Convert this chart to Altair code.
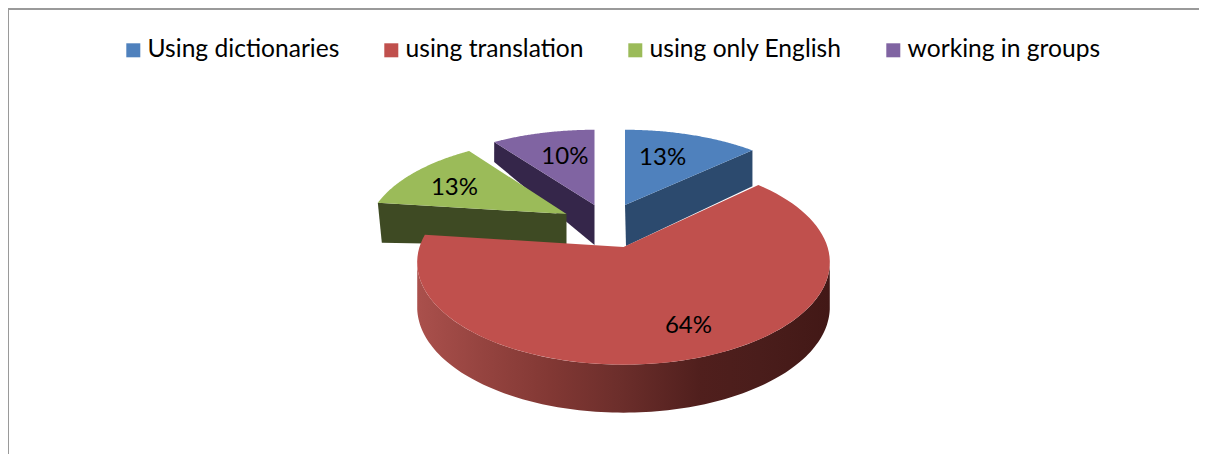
import math
import altair as alt
import pandas as pd

categories = ["Using dictionaries", "using translation", "using only English", "working in groups"]
values = [13, 64, 13, 10]
colors = ["#4f81bd", "#c0504d", "#9bbb59", "#8064a2"]
wall_colors = ["#2c4a6e", "#4f1e1c", "#3e4a23", "#35264a"]
label_texts = ["13%", "64%", "13%", "10%"]

W, H = 1191, 446
APEX = [(625, 205), (623.5, 247), (566.5, 214), (594.5, 205)]
SHAPE = [(201.5, 92, 0.223), (204, 100, 0.15), (195.5, 92, 0.223), (201.5, 92, 0.223)]
OUTER_DEPTH = [36, 46, 40, 20]
APEX_DEPTH = [41, 0, 32, 40]
LABEL_POS = [(20.2, 0.61), (158, 0.76), (296, 0.68), (344.4, 0.62)]
GRAD_X = [417, 480, 550, 620, 700, 760, 830]
GRAD_C = ["#aa504c", "#964440", "#823834", "#6c2e2b", "#501f1d", "#4a1d1b", "#421816"]


def project(idx, f, deg):
    apex = APEX[idx]
    R, RY, K = SHAPE[idx]
    t = math.radians(deg)
    u, v = f * math.sin(t), f * math.cos(t)
    s = 1 / (1 + K * v)
    return apex[0] + R * u * s, apex[1] - RY * v * s


starts, acc = [], 0
for val in values:
    starts.append(acc * 3.6)
    acc += val
ends = [s + v * 3.6 for s, v in zip(starts, values)]

tops, walls = [], []


def add(rows, pid, pts, **kw):
    for i, (x, y) in enumerate(pts):
        rows.append(dict(pid=pid, i=i, x=x, y=y, **kw))


for idx in [3, 2, 0, 1]:
    ap = APEX[idx]
    a0, a1 = starts[idx], ends[idx]
    n = 90
    arc = [project(idx, 1, a0 + (a1 - a0) * j / n) for j in range(n + 1)]
    if idx != 1:
        edge = project(idx, 1, a1) if idx == 0 else project(idx, 1, a0)
        add(walls, f"w{idx}",
            [ap, edge, (edge[0] + (4 if idx == 2 else 0), edge[1] + OUTER_DEPTH[idx]),
             (ap[0] + (1 if idx == 0 else 0), ap[1] + APEX_DEPTH[idx])],
            col=wall_colors[idx])
    add(tops, f"t{idx}", [ap] + arc, cat=categories[idx])

# red outer wall: one polygon between the front rim and the same rim pushed down
red_angles = [100 + 160 * j / 120 for j in range(121)]
rim = [project(1, 1, a) for a in red_angles]
low = [(p[0], p[1] + 44 - 4 * math.cos(math.radians(a))) for p, a in zip(rim, red_angles)]
red_wall = []
add(red_wall, "wall", rim + low[::-1])
xs = [p[0] for p in rim]
x_lo, x_hi = min(xs), max(xs)
stops = [alt.GradientStop(offset=min(1, max(0, (x - x_lo) / (x_hi - x_lo))), color=c) for x, c in zip(GRAD_X, GRAD_C)]

labels = []
for idx, (ang, f) in enumerate(LABEL_POS):
    x, y = project(idx, f, ang)
    labels.append(dict(x=x, y=y, t=label_texts[idx]))

X = alt.X("x:Q", scale=alt.Scale(domain=[8, 8 + W], range=[0, W]), axis=None)
Y = alt.Y("y:Q", scale=alt.Scale(domain=[8, 8 + H], range=[0, H]), axis=None)

back_walls = alt.Chart(pd.DataFrame(walls)).mark_line(filled=True, strokeWidth=0.5).encode(
    x=X, y=Y, order="i:Q", detail="pid:N",
    color=alt.Color("col:N", scale=None, legend=None),
)

legend = alt.Legend(
    title=None, orient="none", legendX=113, legendY=30, direction="horizontal", columns=4,
    symbolType="square", symbolSize=196, symbolStrokeWidth=0, labelFont="Lato", labelFontSize=24.6,
    labelColor="#000000", labelOffset=2, columnPadding=39, gridAlign="none", padding=0, labelLimit=400,
)


def top_layer(rows, lg):
    return alt.Chart(pd.DataFrame(rows)).mark_line(filled=True).encode(
        x=X, y=Y, order="i:Q", detail="pid:N",
        color=alt.Color("cat:N", scale=alt.Scale(domain=categories, range=colors), legend=lg),
    )


wall_red = alt.Chart(pd.DataFrame(red_wall)).mark_line(
    filled=True,
    color=alt.Gradient(gradient="linear", stops=stops, x1=0, x2=1, y1=0, y2=0),
).encode(x=X, y=Y, order="i:Q")

frame = pd.DataFrame({"a": [0]})
left = alt.Chart(frame).mark_rule(color="#9a9a9a", strokeWidth=2).encode(x=alt.value(0), y=alt.value(0), y2=alt.value(H))
top = alt.Chart(frame).mark_rule(color="#9a9a9a", strokeWidth=2).encode(y=alt.value(1), x=alt.value(0), x2=alt.value(W))

front_t = [r for r in tops if r["pid"] == "t1"]

text = alt.Chart(pd.DataFrame(labels)).mark_text(font="Lato", fontSize=24, color="#000000").encode(x=X, y=Y, text="t:N")

chart = alt.layer(
    left, top,
    back_walls, top_layer(tops, legend).transform_filter("datum.pid != 't1'"),
    wall_red, top_layer(front_t, None),
    text,
).resolve_scale(color="independent").properties(
    width=W, height=H, padding=0, autosize=alt.AutoSizeParams(type="none"), background="#ffffff",
).configure_view(stroke=None)

chart.save("out.html", embed_options={"renderer": "svg", "actions": False})
